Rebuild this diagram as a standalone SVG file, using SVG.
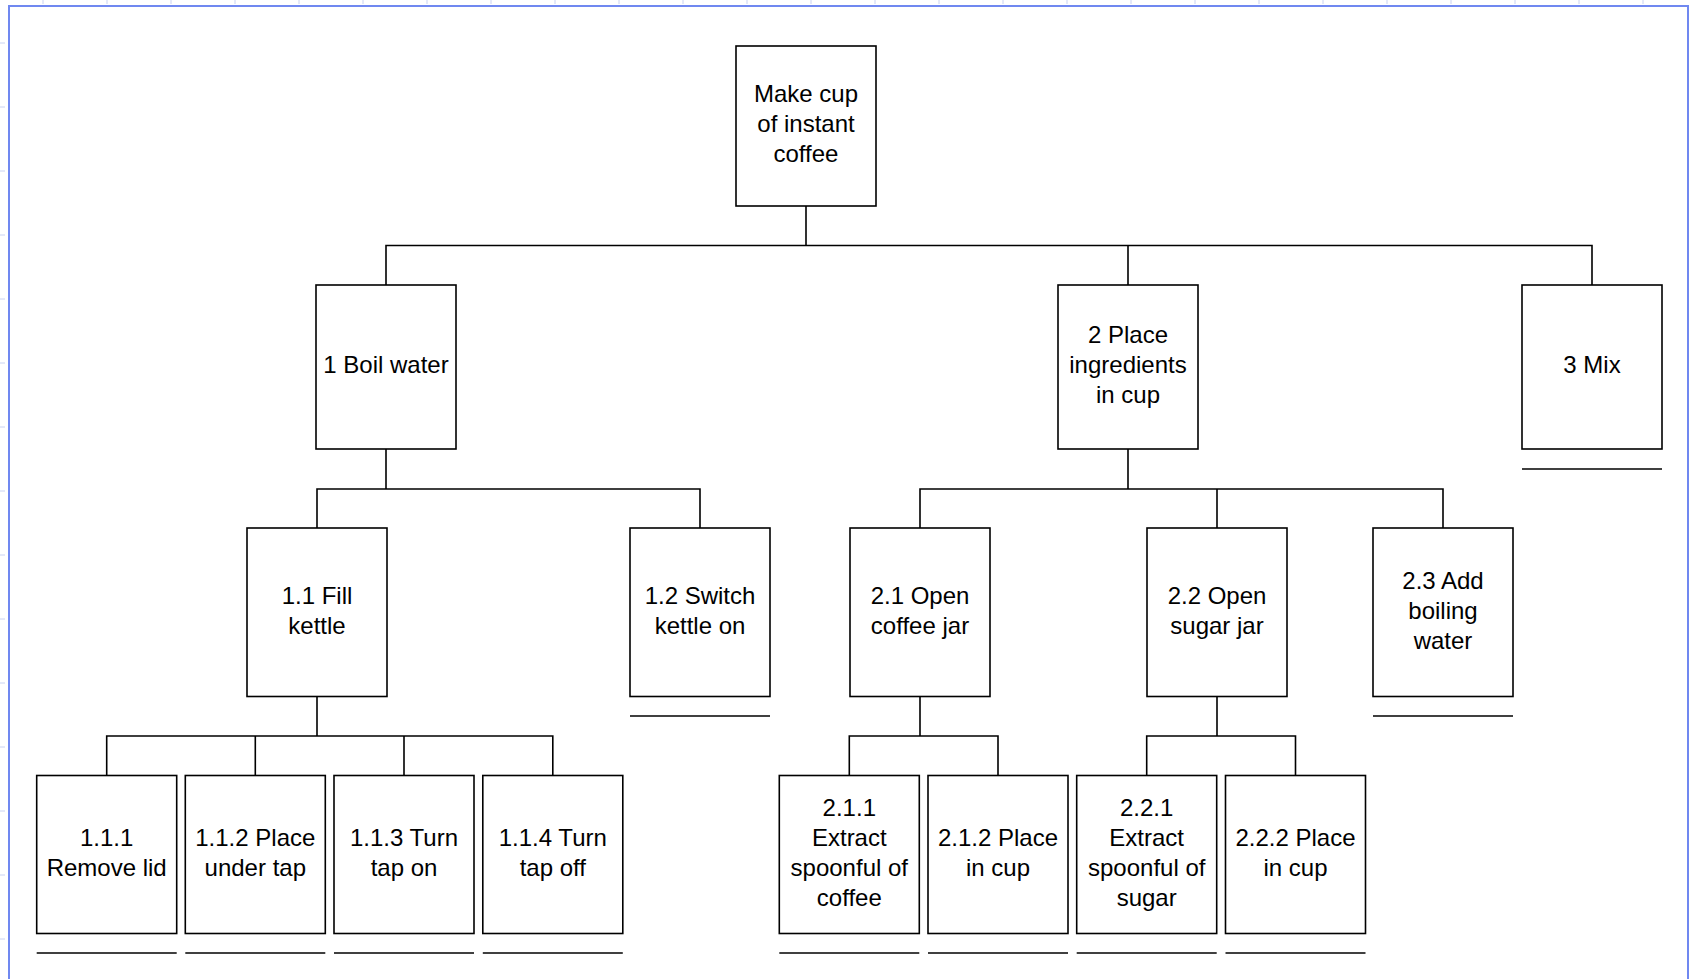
<svg xmlns="http://www.w3.org/2000/svg" width="1690" height="979" viewBox="0 0 1690 979">
<style>
.box{fill:#fff;stroke:#000;stroke-width:1.6}
.ln{fill:none;stroke:#000;stroke-width:1.6}
.ul{stroke:#000;stroke-width:1.6}
.t{font-family:"Liberation Sans",Arial,sans-serif;font-size:24px;fill:#000;text-anchor:middle;transform:translateY(-1.2px)}
.tick{stroke:#c9d2f2;stroke-width:1}
</style>
<rect x="0" y="0" width="1690" height="979" fill="#fff"/>
<g id="ruler">
<path class="tick" d="M43 0v4M107 0v4M171 0v4M235 0v4M299 0v4M363 0v4M427 0v4M491 0v4M555 0v4M619 0v4M683 0v4M747 0v4M811 0v4M875 0v4M939 0v4M1003 0v4M1067 0v4M1131 0v4M1195 0v4M1259 0v4M1323 0v4M1387 0v4M1451 0v4M1515 0v4M1579 0v4M1643 0v4"/>
<path class="tick" d="M0 43h5M0 107h5M0 171h5M0 235h5M0 299h5M0 363h5M0 427h5M0 491h5M0 555h5M0 619h5M0 683h5M0 747h5M0 811h5M0 875h5M0 939h5"/>
</g>
<path d="M9 990V6H1688V990" fill="none" stroke="#7088f0" stroke-width="2"/>
<g id="connectors">
<path class="ln" d="M806 206V245.5M386 285V245.5H1592V285M1128 245.5V285"/>
<path class="ln" d="M386 449V489M317 528V489H700V528"/>
<path class="ln" d="M1128 449V489M920 528V489H1443V528M1217 489V528"/>
<path class="ln" d="M317 696.5V736M106.7 775.5V736H552.8V775.5M255.3 736V775.5M404 736V775.5"/>
<path class="ln" d="M920 696.5V736M849.3 775.5V736H998V775.5"/>
<path class="ln" d="M1217 696.5V736M1146.7 775.5V736H1295.5V775.5"/>
</g>
<g id="n0"><rect class="box" x="736" y="46" width="140" height="160"/><text class="t" x="806" y="103.5">Make cup</text><text class="t" x="806" y="133.5">of instant</text><text class="t" x="806" y="163.5">coffee</text></g>
<g id="n1"><rect class="box" x="316" y="285" width="140" height="164"/><text class="t" x="386" y="374.5">1 Boil water</text></g>
<g id="n2"><rect class="box" x="1058" y="285" width="140" height="164"/><text class="t" x="1128" y="344.5">2 Place</text><text class="t" x="1128" y="374.5">ingredients</text><text class="t" x="1128" y="404.5">in cup</text></g>
<g id="n3"><rect class="box" x="1522" y="285" width="140" height="164"/><text class="t" x="1592" y="374.5">3 Mix</text><line class="ul" x1="1522" y1="469" x2="1662" y2="469"/></g>
<g id="n11"><rect class="box" x="247" y="528" width="140" height="168.5"/><text class="t" x="317" y="604.8">1.1 Fill</text><text class="t" x="317" y="634.8">kettle</text></g>
<g id="n12"><rect class="box" x="630" y="528" width="140" height="168.5"/><text class="t" x="700" y="604.8">1.2 Switch</text><text class="t" x="700" y="634.8">kettle on</text><line class="ul" x1="630" y1="716" x2="770" y2="716"/></g>
<g id="n21"><rect class="box" x="850" y="528" width="140" height="168.5"/><text class="t" x="920" y="604.8">2.1 Open</text><text class="t" x="920" y="634.8">coffee jar</text></g>
<g id="n22"><rect class="box" x="1147" y="528" width="140" height="168.5"/><text class="t" x="1217" y="604.8">2.2 Open</text><text class="t" x="1217" y="634.8">sugar jar</text></g>
<g id="n23"><rect class="box" x="1373" y="528" width="140" height="168.5"/><text class="t" x="1443" y="589.8">2.3 Add</text><text class="t" x="1443" y="619.8">boiling</text><text class="t" x="1443" y="649.8">water</text><line class="ul" x1="1373" y1="716" x2="1513" y2="716"/></g>
<g id="n111"><rect class="box" x="36.7" y="775.5" width="140" height="158"/><text class="t" x="106.7" y="847">1.1.1</text><text class="t" x="106.7" y="877">Remove lid</text><line class="ul" x1="36.7" y1="953" x2="176.7" y2="953"/></g>
<g id="n112"><rect class="box" x="185.3" y="775.5" width="140" height="158"/><text class="t" x="255.3" y="847">1.1.2 Place</text><text class="t" x="255.3" y="877">under tap</text><line class="ul" x1="185.3" y1="953" x2="325.3" y2="953"/></g>
<g id="n113"><rect class="box" x="334" y="775.5" width="140" height="158"/><text class="t" x="404" y="847">1.1.3 Turn</text><text class="t" x="404" y="877">tap on</text><line class="ul" x1="334" y1="953" x2="474" y2="953"/></g>
<g id="n114"><rect class="box" x="482.8" y="775.5" width="140" height="158"/><text class="t" x="552.8" y="847">1.1.4 Turn</text><text class="t" x="552.8" y="877">tap off</text><line class="ul" x1="482.8" y1="953" x2="622.8" y2="953"/></g>
<g id="n211"><rect class="box" x="779.3" y="775.5" width="140" height="158"/><text class="t" x="849.3" y="817">2.1.1</text><text class="t" x="849.3" y="847">Extract</text><text class="t" x="849.3" y="877">spoonful of</text><text class="t" x="849.3" y="907">coffee</text><line class="ul" x1="779.3" y1="953" x2="919.3" y2="953"/></g>
<g id="n212"><rect class="box" x="928" y="775.5" width="140" height="158"/><text class="t" x="998" y="847">2.1.2 Place</text><text class="t" x="998" y="877">in cup</text><line class="ul" x1="928" y1="953" x2="1068" y2="953"/></g>
<g id="n221"><rect class="box" x="1076.7" y="775.5" width="140" height="158"/><text class="t" x="1146.7" y="817">2.2.1</text><text class="t" x="1146.7" y="847">Extract</text><text class="t" x="1146.7" y="877">spoonful of</text><text class="t" x="1146.7" y="907">sugar</text><line class="ul" x1="1076.7" y1="953" x2="1216.7" y2="953"/></g>
<g id="n222"><rect class="box" x="1225.5" y="775.5" width="140" height="158"/><text class="t" x="1295.5" y="847">2.2.2 Place</text><text class="t" x="1295.5" y="877">in cup</text><line class="ul" x1="1225.5" y1="953" x2="1365.5" y2="953"/></g>
</svg>
